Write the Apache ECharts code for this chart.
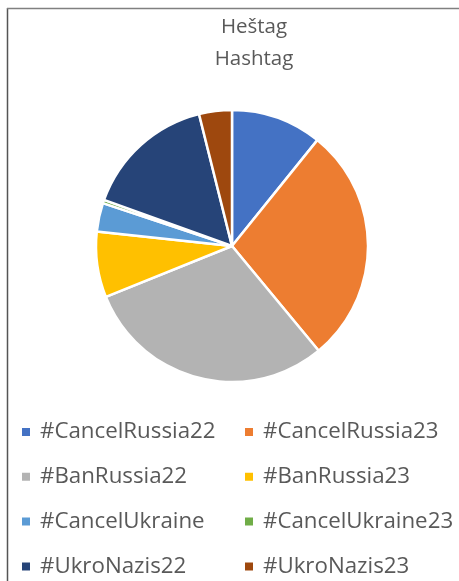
<!DOCTYPE html>
<html>
<head>
<meta charset="utf-8">
<script src="https://cdn.jsdelivr.net/npm/echarts@6/dist/echarts.min.js"></script>
<style>
html,body{margin:0;padding:0;background:#fff;}
#chart{width:459px;height:581px;}
</style>
</head>
<body>
<div id="chart"></div>
<script>
const titleLines = ['Heštag', 'Hashtag'];
const categories = ['#CancelRussia22', '#CancelRussia23', '#BanRussia22', '#BanRussia23',
  '#CancelUkraine', '#CancelUkraine23', '#UkroNazis22', '#UkroNazis23'];
const values = [10.8, 28.2, 29.9, 7.8, 3.4, 0.4, 15.6, 3.9];
const colors = ['#4472C4', '#ED7D31', '#B3B3B3', '#FFC000', '#5B9BD5', '#70AD47', '#264478', '#9E480E'];

const chart = echarts.init(document.getElementById('chart'));
const legendText = {
  color: '#595959', fontFamily: 'Open Sans', fontSize: 22.3, lineHeight: 22, padding: [0, 0, 0, 4]
};
const col1 = categories.filter((c, i) => i % 2 === 0);
const col2 = categories.filter((c, i) => i % 2 === 1);
const legendBase = { orient: 'vertical', top: 421, height: 200, padding: 0, itemWidth: 10, itemHeight: 10,
  itemGap: 22.8, icon: 'rect', textStyle: legendText };
chart.setOption({
  animation: false,
  color: colors,
  title: {
    text: titleLines.join('\n'),
    left: 249, top: 6,
    textAlign: 'center',
    textStyle: { color: '#595959', fontFamily: 'Open Sans', fontSize: 20.5, fontWeight: 'normal', lineHeight: 32 }
  },
  legend: [
    Object.assign({ data: col1, left: 20 }, legendBase),
    Object.assign({ data: col2, left: 243 }, legendBase)
  ],
  graphic: [
    { type: 'line', shape: { x1: 7.5, y1: 8, x2: 7.5, y2: 581 }, style: { stroke: '#555', lineWidth: 1.5 } },
    { type: 'line', shape: { x1: 7, y1: 8.5, x2: 459, y2: 8.5 }, style: { stroke: '#808080', lineWidth: 1.5 } }
  ],
  series: [{
    type: 'pie',
    center: [232, 246],
    radius: 136,
    startAngle: 90,
    clockwise: true,
    label: { show: false },
    labelLine: { show: false },
    itemStyle: { borderColor: '#fff', borderWidth: 2.5 },
    emphasis: { disabled: true },
    data: categories.map((c, i) => ({ name: c, value: values[i] }))
  }]
});
</script>
</body>
</html>
